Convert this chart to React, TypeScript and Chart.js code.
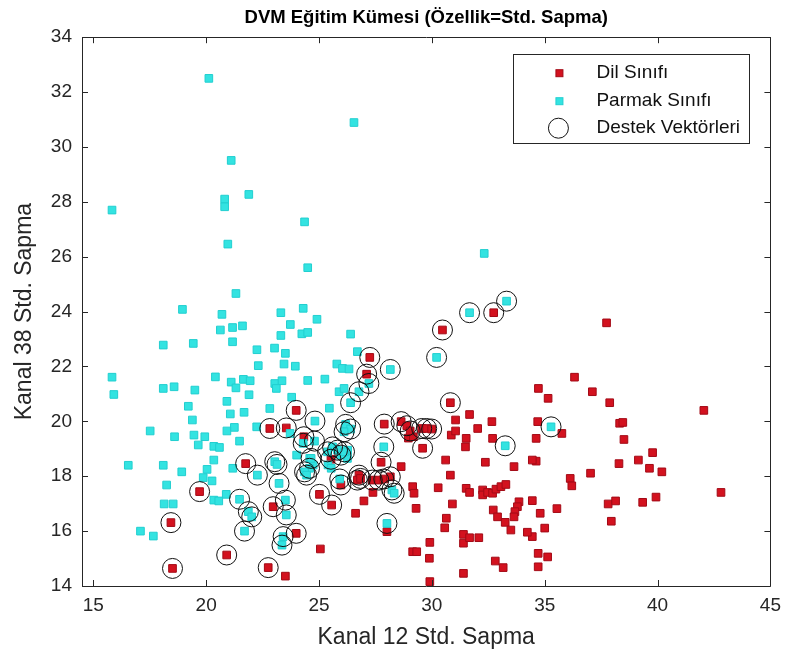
import React, { useEffect, useRef } from 'react';
import { Chart, registerables } from 'chart.js';

Chart.register(...registerables);

const chartTitle = 'DVM Eğitim Kümesi (Özellik=Std. Sapma)';
const xAxisTitle = 'Kanal 12 Std. Sapma';
const yAxisTitle = 'Kanal 38 Std. Sapma';
const seriesLabels = ['Dil Sınıfı', 'Parmak Sınıfı', 'Destek Vektörleri'];

const xTicks = [15, 20, 25, 30, 35, 40, 45];
const yTicks = [14, 16, 18, 20, 22, 24, 26, 28, 30, 32, 34];
const xMin = 14.5;
const xMax = 45;
const yMin = 14;
const yMax = 34;

// Dil Sınıfı (red) – not support vectors
const dilX = [37.74, 36.32, 34.72, 35.15, 37.11, 37.88, 42.05, 34.69, 35.76, 38.32, 38.46, 38.51, 34.62, 34.62, 34.45, 39.78, 39.15, 39.64, 40.19, 38.29, 37.03, 36.13, 36.2, 42.81, 39.93, 39.34, 37.81, 38.14, 37.95, 35.54, 34.8, 34.45, 35.0, 34.45, 34.23, 34.71, 35.13, 34.71, 31.05, 31.67, 32.03, 32.66, 30.86, 31.05, 31.52, 31.49, 32.69, 28.96, 29.18, 28.64, 30.61, 32.37, 33.64, 30.82, 27.39, 29.15, 29.21, 30.28, 31.52, 31.67, 32.25, 32.25, 32.47, 32.69, 32.84, 33.06, 33.28, 26.99, 26.62, 29.3, 30.91, 33.86, 33.79, 33.68, 33.64, 32.72, 32.91, 33.25, 33.5, 30.64, 30.57, 28.01, 25.06, 29.91, 31.4, 31.4, 31.67, 32.08, 29.15, 29.33, 29.89, 32.81, 33.16, 31.4, 29.91, 23.51];
const dilY = [23.59, 21.61, 21.2, 20.84, 21.08, 20.68, 20.4, 19.99, 19.56, 19.93, 19.96, 19.34, 19.38, 18.55, 18.59, 18.86, 18.59, 18.29, 18.16, 18.46, 18.11, 17.92, 17.65, 17.41, 17.24, 17.05, 16.99, 17.1, 16.36, 16.82, 16.65, 17.11, 16.11, 15.8, 15.96, 15.19, 15.06, 14.7, 20.05, 20.25, 19.74, 19.99, 19.5, 19.65, 19.38, 19.07, 19.38, 19.39, 19.44, 18.35, 18.59, 18.51, 18.35, 18.04, 17.41, 17.62, 17.38, 17.58, 17.56, 17.41, 17.5, 17.32, 17.41, 17.38, 17.53, 17.62, 17.7, 17.1, 16.65, 16.83, 16.99, 17.07, 16.89, 16.71, 16.52, 16.77, 16.52, 16.32, 16.04, 16.47, 16.12, 15.98, 15.35, 15.59, 15.88, 15.56, 15.76, 15.76, 15.25, 15.25, 15.01, 14.91, 14.67, 14.46, 14.16, 14.36];

// Dil Sınıfı (red) – support vectors
const dilSvX = [32.74, 30.47, 27.25, 27.11, 30.82, 23.99, 22.82, 23.55, 24.33, 21.75, 19.71, 22.97, 18.44, 23.99, 20.91, 18.51, 22.75, 27.89, 28.64, 28.89, 29.04, 29.55, 29.77, 29.99, 29.59, 25.53, 27.75, 26.77, 26.7, 26.84, 27.36, 27.65, 27.87, 28.16, 25.02, 25.56, 25.97];
const dilSvY = [23.96, 23.33, 22.33, 21.72, 20.68, 20.4, 19.74, 19.76, 19.44, 18.46, 17.44, 16.89, 16.31, 15.92, 15.13, 14.64, 14.67, 19.9, 19.99, 19.84, 19.65, 19.74, 19.74, 19.72, 19.02, 18.62, 18.51, 18.04, 17.86, 17.92, 17.86, 17.86, 17.9, 17.98, 17.34, 16.95, 17.68];

// Parmak Sınıfı (cyan) – not support vectors
const parmakX = [20.12, 21.11, 15.83, 20.82, 20.82, 21.89, 24.36, 26.55, 20.96, 24.5, 21.32, 18.95, 20.7, 23.31, 24.3, 23.73, 20.63, 21.17, 21.61, 23.31, 24.24, 24.5, 18.1, 19.43, 21.17, 22.25, 23.03, 23.51, 22.31, 23.45, 23.95, 15.83, 20.41, 21.11, 21.65, 21.95, 21.32, 23.04, 23.36, 23.11, 24.5, 15.91, 18.1, 18.58, 19.5, 21.9, 20.92, 19.21, 22.82, 23.79, 21.07, 21.68, 19.39, 22.24, 21.25, 20.92, 17.52, 18.6, 19.46, 19.94, 21.48, 19.65, 20.34, 20.59, 20.34, 16.55, 18.1, 18.92, 20.04, 21.18, 19.87, 20.26, 18.25, 20.89, 20.34, 20.56, 18.14, 18.54, 17.09, 17.66, 24.91, 26.4, 26.7, 25.79, 26.04, 26.33, 25.26, 25.89, 26.11, 25.46, 32.32, 23.72, 24.01, 24.59, 24.74, 25.4, 25.54, 26.27, 26.26];
const parmakY = [32.5, 29.51, 27.7, 28.1, 27.82, 28.27, 27.27, 30.89, 26.46, 25.6, 24.66, 24.08, 23.9, 23.96, 24.12, 23.53, 23.33, 23.42, 23.48, 23.13, 23.19, 23.24, 22.78, 22.84, 22.9, 22.61, 22.67, 22.48, 22.03, 22.09, 22.01, 21.61, 21.62, 21.43, 21.53, 21.48, 21.22, 21.38, 21.48, 21.2, 21.49, 20.98, 21.2, 21.26, 21.14, 20.97, 20.73, 20.55, 20.47, 20.88, 20.27, 20.33, 20.05, 19.8, 19.78, 19.65, 19.65, 19.44, 19.5, 19.44, 19.28, 19.14, 19.09, 19.05, 18.59, 18.4, 18.4, 18.16, 18.25, 18.29, 17.95, 17.83, 17.68, 17.34, 17.13, 17.1, 16.99, 16.99, 16.0, 15.82, 23.72, 23.18, 22.54, 22.09, 21.93, 21.91, 21.54, 21.08, 21.2, 20.48, 26.12, 19.56, 18.77, 18.65, 18.41, 18.41, 18.29, 18.95, 18.65];

// Parmak Sınıfı (cyan) – support vectors
const parmakSvX = [33.31, 31.67, 30.21, 28.16, 27.21, 26.77, 26.4, 24.82, 26.18, 26.4, 26.11, 27.87, 33.25, 35.28, 25.6, 25.82, 25.38, 25.97, 24.8, 24.65, 24.58, 25.92, 28.23, 28.33, 28.01, 23.04, 23.14, 22.27, 23.23, 21.48, 23.51, 21.87, 22.02, 23.55, 21.7, 23.41, 23.36, 24.36, 24.3, 24.45, 26.13];
const parmakSvY = [24.38, 23.96, 22.33, 21.89, 21.38, 21.08, 20.68, 20.01, 19.89, 19.72, 19.62, 19.07, 19.11, 19.8, 19.07, 18.95, 18.89, 18.77, 19.28, 18.65, 18.29, 17.9, 17.5, 17.38, 16.28, 18.53, 18.43, 18.04, 17.74, 17.16, 17.13, 16.71, 16.52, 16.59, 16.0, 15.8, 15.49, 18.16, 19.2, 18.04, 18.89];

const FONT = '"Liberation Sans", Arial, Helvetica, sans-serif';
const AXIS_COLOR = '#262626';
const RED_FILL = '#d3121f';
const RED_EDGE = '#a30a16';
const CYAN_FILL = '#33e3e1';
const CYAN_EDGE = '#22cfd0';

const toPoints = (xs: number[], ys: number[]) => xs.map((x, i) => ({ x, y: ys[i] }));

const frameAndTicks = {
  id: 'frameAndTicks',
  afterDraw(chart: any) {
    const { ctx, chartArea: a, scales } = chart;
    const len = 6;
    ctx.save();
    ctx.strokeStyle = AXIS_COLOR;
    ctx.lineWidth = 1;
    ctx.beginPath();
    ctx.rect(Math.round(a.left) + 0.5, Math.round(a.top) + 0.5, Math.round(a.right - a.left), Math.round(a.bottom - a.top));
    xTicks.forEach((v) => {
      const px = Math.round(scales.x.getPixelForValue(v)) + 0.5;
      ctx.moveTo(px, a.bottom);
      ctx.lineTo(px, a.bottom - len);
      ctx.moveTo(px, a.top);
      ctx.lineTo(px, a.top + len);
    });
    yTicks.forEach((v) => {
      const py = Math.round(scales.y.getPixelForValue(v)) + 0.5;
      ctx.moveTo(a.left, py);
      ctx.lineTo(a.left + len, py);
      ctx.moveTo(a.right, py);
      ctx.lineTo(a.right - len, py);
    });
    ctx.stroke();
    ctx.restore();
  },
};

const boxLegend = {
  id: 'boxLegend',
  afterDraw(chart: any) {
    const { ctx, chartArea: a } = chart;
    const left = a.right - 257;
    const top = a.top + 17;
    const w = 236;
    const h = 89;
    ctx.save();
    ctx.fillStyle = '#ffffff';
    ctx.fillRect(left, top, w, h);
    ctx.strokeStyle = AXIS_COLOR;
    ctx.lineWidth = 1;
    ctx.strokeRect(Math.round(left) + 0.5, Math.round(top) + 0.5, w, h);
    const mx = left + 46;
    const tx = left + 83;
    const rows = [top + 19, top + 47, top + 74];
    ctx.font = `19px ${FONT}`;
    ctx.textBaseline = 'middle';
    ctx.textAlign = 'left';
    ctx.fillStyle = RED_FILL;
    ctx.strokeStyle = RED_EDGE;
    ctx.fillRect(mx - 3.5, rows[0] - 3.5, 7, 7);
    ctx.strokeRect(mx - 3.5, rows[0] - 3.5, 7, 7);
    ctx.fillStyle = CYAN_FILL;
    ctx.strokeStyle = CYAN_EDGE;
    ctx.fillRect(mx - 3.5, rows[1] - 3.5, 7, 7);
    ctx.strokeRect(mx - 3.5, rows[1] - 3.5, 7, 7);
    ctx.strokeStyle = '#111111';
    ctx.beginPath();
    ctx.arc(mx - 1, rows[2], 10, 0, Math.PI * 2);
    ctx.stroke();
    ctx.fillStyle = '#111111';
    seriesLabels.forEach((label, i) => {
      ctx.fillText(label, tx, rows[i]);
    });
    ctx.restore();
  },
};

export default function App() {
  const canvasRef = useRef<HTMLCanvasElement | null>(null);

  useEffect(() => {
    const canvas = canvasRef.current;
    if (!canvas) return;
    const chart = new Chart(canvas, {
      type: 'scatter',
      data: {
        datasets: [
          {
            label: seriesLabels[0],
            data: [...toPoints(dilX, dilY), ...toPoints(dilSvX, dilSvY)],
            pointStyle: 'rect',
            pointRadius: 5.4,
            backgroundColor: RED_FILL,
            borderColor: RED_EDGE,
            borderWidth: 1,
            order: 2,
          },
          {
            label: seriesLabels[1],
            data: [...toPoints(parmakX, parmakY), ...toPoints(parmakSvX, parmakSvY)],
            pointStyle: 'rect',
            pointRadius: 5.4,
            backgroundColor: CYAN_FILL,
            borderColor: CYAN_EDGE,
            borderWidth: 1,
            order: 1,
          },
          {
            label: seriesLabels[2],
            data: [...toPoints(dilSvX, dilSvY), ...toPoints(parmakSvX, parmakSvY)],
            pointStyle: 'circle',
            pointRadius: 10,
            backgroundColor: 'rgba(0,0,0,0)',
            borderColor: '#111111',
            borderWidth: 1,
            order: 0,
          },
        ],
      },
      options: {
        responsive: false,
        animation: false,
        devicePixelRatio: 1,
        events: [],
        layout: { padding: { left: 0, right: 15, top: 0, bottom: 0 } },
        plugins: {
          legend: { display: false },
          tooltip: { enabled: false },
          title: {
            display: true,
            text: chartTitle,
            fullSize: false,
            color: '#000000',
            font: { family: FONT, size: 18.5, weight: 'bold' },
            padding: { top: 7, bottom: 8 },
          },
        },
        scales: {
          x: {
            type: 'linear',
            min: xMin,
            max: xMax,
            afterBuildTicks: (s: any) => {
              s.ticks = xTicks.map((v) => ({ value: v }));
            },
            afterFit: (s: any) => {
              s.height = 76;
            },
            grid: { display: false, drawTicks: false },
            border: { display: false },
            ticks: {
              color: AXIS_COLOR,
              font: { family: FONT, size: 19 },
              padding: 8,
              maxRotation: 0,
              autoSkip: false,
            },
            title: {
              display: true,
              text: xAxisTitle,
              color: AXIS_COLOR,
              font: { family: FONT, size: 23 },
              padding: { top: 0, bottom: 11 },
            },
          },
          y: {
            type: 'linear',
            min: yMin,
            max: yMax,
            afterBuildTicks: (s: any) => {
              s.ticks = yTicks.map((v) => ({ value: v }));
            },
            afterFit: (s: any) => {
              s.width = 82;
            },
            grid: { display: false, drawTicks: false },
            border: { display: false },
            ticks: {
              color: AXIS_COLOR,
              font: { family: FONT, size: 19 },
              padding: 10,
              autoSkip: false,
            },
            title: {
              display: true,
              text: yAxisTitle,
              color: AXIS_COLOR,
              font: { family: FONT, size: 23 },
              padding: { top: 11, bottom: 0 },
            },
          },
        },
      },
      plugins: [frameAndTicks, boxLegend],
    } as any);
    return () => chart.destroy();
  }, []);

  return (
    <div style={{ position: 'fixed', left: 0, top: 0, width: 789, height: 662, background: '#ffffff' }}>
      <canvas ref={canvasRef} width={789} height={662} style={{ display: 'block' }} />
    </div>
  );
}
